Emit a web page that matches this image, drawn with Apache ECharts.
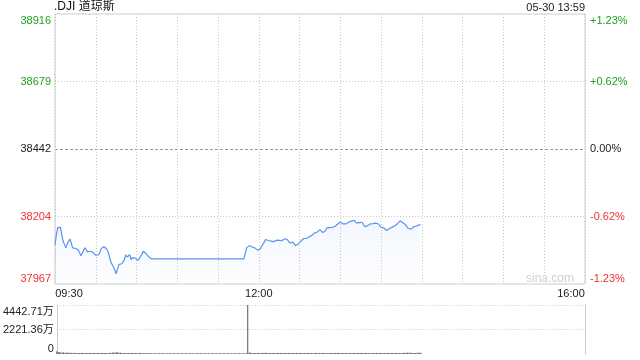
<!DOCTYPE html>
<html><head><meta charset="utf-8">
<script src="https://cdn.jsdelivr.net/npm/echarts@6/dist/echarts.min.js"></script>
<style>html,body{margin:0;padding:0;background:#fff}#c{width:640px;height:360px}</style>
</head><body><div id="c"></div>
<script>
// ---- data ----
const titleText = '.DJI 道琼斯';
const stampText = '05-30 13:59';
const priceMin = 37967;
const priceMax = 38916;
const leftLabels = ['37967', '38204', '38442', '38679', '38916'];
const rightLabels = ['-1.23%', '-0.62%', '0.00%', '+0.62%', '+1.23%'];
const xLabels = ['09:30', '12:00', '16:00'];
const volMax = 4442.71; // 万
const volLabels = ['0', '2221.36万', '4442.71万'];
const prices = [
38105,38140,38165,38167,38166,38140,38117,38123,38094,38108,
38117,38125,38131,38094,38098,38092,38095,38088,38078,38066,
38075,38086,38094,38088,38080,38078,38082,38076,38078,38072,
38068,38062,38070,38078,38092,38096,38098,38096,38090,38082,
38064,38046,38036,38028,38017,38003,38020,38035,38032,38038,
38034,38052,38070,38062,38066,38070,38052,38060,38064,38058,
38062,38050,38046,38064,38072,38082,38078,38074,38070,38062,
38058,38055,38055,38055,38055,38055,38055,38055,38055,38055,
38055,38055,38055,38055,38055,38055,38055,38055,38055,38055,
38055,38055,38055,38055,38055,38055,38055,38055,38055,38055,
38055,38055,38055,38055,38055,38055,38055,38055,38055,38055,
38055,38055,38055,38055,38055,38055,38055,38055,38055,38055,
38055,38055,38055,38055,38055,38055,38055,38055,38055,38055,
38055,38055,38055,38055,38055,38055,38055,38055,38055,38055,
38055,38094,38098,38102,38099,38097,38100,38094,38090,38086,
38082,38090,38099,38104,38115,38123,38122,38120,38121,38118,
38119,38116,38118,38121,38123,38120,38118,38119,38122,38126,
38125,38123,38116,38111,38117,38114,38108,38102,38104,38108,
38112,38118,38123,38127,38129,38127,38131,38133,38134,38138,
38142,38146,38148,38150,38154,38158,38152,38148,38144,38154,
38164,38163,38165,38166,38166,38168,38169,38174,38178,38182,
38185,38181,38178,38175,38178,38182,38184,38185,38188,38190,
38191,38186,38181,38182,38183,38184,38184,38176,38168,38164,
38172,38179,38178,38179,38179,38180,38181,38181,38178,38175,
38166,38160,38164,38166,38155,38158,38162,38164,38166,38169,
38172,38176,38179,38184,38189,38186,38182,38178,38175,38168,
38162,38155,38160,38167,38168,38169,38171,38173,38175,38175
];
const volumes = [
260,185,150,140,125,130,110,120,105,112,
104,96,110,100,92,95,100,86,90,96,
90,86,95,100,82,85,90,86,80,90,
85,80,90,86,80,95,85,80,90,100,
110,122,130,125,140,152,120,110,100,95,
90,95,85,90,80,86,90,80,85,76,
80,85,90,80,76,85,80,75,80,75,
70,75,70,72,68,70,72,70,68,70,
72,68,70,74,70,68,72,70,69,71,
70,72,68,70,71,69,70,72,70,68,
70,71,72,69,70,68,70,72,71,70,
69,70,72,68,70,71,70,69,72,70,
68,70,71,70,72,69,70,68,71,70,
72,70,69,70,71,68,70,72,70,69,
70,4442.71,125,112,100,95,90,100,96,90,
88,92,98,104,110,96,90,86,88,84,
82,86,90,85,80,84,88,86,82,80,
84,88,92,86,82,80,85,88,84,80,
82,86,90,94,88,84,82,85,80,78,
82,86,84,80,78,82,85,88,84,80,
78,82,86,90,86,82,80,84,88,85,
82,80,84,86,82,78,80,84,88,86,
82,80,84,88,92,88,84,80,82,86,
84,80,78,82,86,84,80,82,85,88,
84,80,82,86,90,86,82,84,88,92,
96,90,86,84,88,92,98,104,110,118,
112,106,100,96,92,98,104,110,116,124
];
// minute categories 09:30 .. 16:00
const times = [];
for (let m = 9 * 60 + 30; m <= 16 * 60; m++) {
  const h = Math.floor(m / 60), mm = m % 60;
  times.push((h < 10 ? '0' : '') + h + ':' + (mm < 10 ? '0' : '') + mm);
}

const GREEN = '#1fa01f', RED = '#f0302e', DARK = '#222';
const tickColors = [RED, RED, DARK, GREEN, GREEN];
const FONT = '"Liberation Sans", Arial, "Noto Sans CJK SC", sans-serif';
const edgeRich = {
  t: { padding: [13, 0, 0, 0] },
  b: { padding: [0, 0, 11, 0] },
  l: { padding: [0, 0, 0, 28] },
  r: { padding: [0, 28, 0, 0] }
};
function yLab(arr) {
  return function (v) {
    const i = Math.round(v);
    if (i === 0) return '{b|' + arr[i] + '}';
    if (i === arr.length - 1) return '{t|' + arr[i] + '}';
    return arr[i];
  };
}

const chart = echarts.init(document.getElementById('c'), null, { renderer: 'canvas' });
chart.setOption({
  animation: false,
  textStyle: { fontFamily: FONT },
  title: [
    { text: titleText, left: 54, top: 1, padding: 0, textStyle: { fontSize: 12, fontWeight: 'normal', color: '#111', fontFamily: FONT } },
    { text: stampText, right: 55, top: 2, padding: 0, textStyle: { fontSize: 11, fontWeight: 'normal', color: '#222', fontFamily: FONT } }
  ],
  graphic: [
    { type: 'text', z: 1, style: { text: 'sina.com', x: 574, y: 279, textAlign: 'right', textVerticalAlign: 'middle', fill: '#cfcfcf', font: '12px ' + FONT } }
  ],
  grid: [
    { left: 55, right: 55, top: 14, height: 270, show: true, borderColor: '#cccccc', borderWidth: 1, backgroundColor: 'transparent' },
    { left: 55, right: 55, top: 305, height: 49 }
  ],
  xAxis: [
    {
      type: 'category', gridIndex: 0, data: times, boundaryGap: false,
      axisLine: { show: false }, axisTick: { show: false },
      axisLabel: {
        interval: function (i, v) { return xLabels.indexOf(v) >= 0; },
        formatter: function (v) {
          if (v === xLabels[0]) return '{l|' + v + '}';
          if (v === xLabels[xLabels.length - 1]) return '{r|' + v + '}';
          return v;
        },
        rich: edgeRich, fontSize: 11, color: DARK, margin: 4
      },
      splitLine: { show: true, interval: function (i) { return i % 30 === 0; }, lineStyle: { color: '#c8c8c8', type: [1, 2], width: 1 } }
    },
    {
      type: 'category', gridIndex: 1, data: times, boundaryGap: false,
      axisLine: { show: false }, axisTick: { show: false }, axisLabel: { show: false }, splitLine: { show: false }
    }
  ],
  yAxis: [
    { type: 'value', gridIndex: 0, min: priceMin, max: priceMax, show: false, splitLine: { show: false } },
    {
      type: 'value', gridIndex: 0, position: 'left', min: 0, max: 4, interval: 1,
      axisLine: { show: false }, axisTick: { show: false },
      axisLabel: { formatter: yLab(leftLabels), rich: edgeRich, fontSize: 11, margin: 4, color: function (v) { return tickColors[Math.round(v)]; } },
      splitLine: { show: true, lineStyle: { color: ['rgba(0,0,0,0)', '#c8c8c8', 'rgba(0,0,0,0)', '#c8c8c8', 'rgba(0,0,0,0)'], type: [1, 2] } }
    },
    {
      type: 'value', gridIndex: 0, position: 'right', min: 0, max: 4, interval: 1,
      axisLine: { show: false }, axisTick: { show: false },
      axisLabel: { formatter: yLab(rightLabels), rich: edgeRich, fontSize: 11, margin: 5, color: function (v) { return tickColors[Math.round(v)]; } },
      splitLine: { show: true, lineStyle: { color: ['rgba(0,0,0,0)', 'rgba(0,0,0,0)', '#999999', 'rgba(0,0,0,0)', 'rgba(0,0,0,0)'], type: [3, 2] } }
    },
    {
      type: 'value', gridIndex: 1, position: 'left', min: 0, max: volMax, interval: volMax / 2,
      axisLine: { show: true, lineStyle: { color: '#cccccc' } }, axisTick: { show: false },
      axisLabel: {
        formatter: function (v) { return yLab(volLabels)(v / (volMax / 2)); },
        rich: edgeRich, fontSize: 11, margin: 3, color: DARK
      },
      splitLine: { show: true, lineStyle: { color: ['rgba(0,0,0,0)', '#c8c8c8', '#c8c8c8'], type: [1, 2] } }
    },
    {
      type: 'value', gridIndex: 1, position: 'right', min: 0, max: volMax,
      axisLine: { show: true, lineStyle: { color: '#cccccc' } }, axisTick: { show: false },
      axisLabel: { show: false }, splitLine: { show: false }
    }
  ],
  series: [
    {
      type: 'line', xAxisIndex: 0, yAxisIndex: 0, data: prices, symbol: 'none',
      lineStyle: { color: '#5a94f2', width: 1.2 },
      areaStyle: { color: new echarts.graphic.LinearGradient(0, 0, 0, 1, [
        { offset: 0, color: 'rgba(90,148,242,0.10)' },
        { offset: 1, color: 'rgba(90,148,242,0.02)' }
      ]) },
      z: 3
    },
    {
      type: 'bar', xAxisIndex: 1, yAxisIndex: 3, data: volumes, barWidth: 1,
      itemStyle: { color: '#555555' }, z: 3
    }
  ]
});
</script>
</body></html>
